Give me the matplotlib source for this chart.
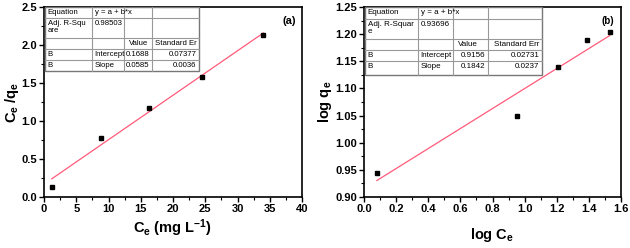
import numpy as np
import matplotlib.pyplot as plt
from matplotlib.ticker import MultipleLocator

plt.rcParams['font.family'] = ['Liberation Sans', 'DejaVu Sans']
plt.rcParams['mathtext.fontset'] = 'custom'
plt.rcParams['mathtext.rm'] = 'Liberation Sans:bold'
plt.rcParams['mathtext.it'] = 'Liberation Sans:bold'
plt.rcParams['mathtext.bf'] = 'Liberation Sans:bold'

# Langmuir data (a)
ce_a = [1.2, 8.8, 16.3, 24.5, 34.0]
ceqe_a = [0.13, 0.78, 1.17, 1.58, 2.13]
int_a, slope_a = 0.1688, 0.0585

# Freundlich data (b)
logce_b = [0.08, 0.95, 1.21, 1.39, 1.53]
logqe_b = [0.944, 1.049, 1.139, 1.190, 1.204]
int_b, slope_b = 0.9156, 0.1842

table_a = [["Equation", "y = a + b*x", "", ""],
           ["Adj. R-Squ\nare", "0.98503", "", ""],
           ["", "", "Value", "Standard Er"],
           ["B", "Intercept", "0.1688", "0.07377"],
           ["B", "Slope", "0.0585", "0.0036"]]
table_b = [["Equation", "y = a + b*x", "", ""],
           ["Adj. R-Squar\ne", "0.93696", "", ""],
           ["", "", "Value", "Standard Err"],
           ["B", "Intercept", "0.9156", "0.02731"],
           ["B", "Slope", "0.1842", "0.0237"]]


def draw_table(ax, data, x0, y0, colw, rowh, fs):
    # draws a bordered table in axes fraction coords, top-left at (x0, y0)
    xs = [x0]
    for w in colw:
        xs.append(xs[-1] + w)
    ys = [y0]
    for h in rowh:
        ys.append(ys[-1] - h)
    kw = dict(transform=ax.transAxes, color='#999999', lw=0.8, zorder=5)
    ax.add_patch(plt.Rectangle((xs[0], ys[-1]), xs[-1] - xs[0], ys[0] - ys[-1],
                               transform=ax.transAxes, facecolor='white',
                               edgecolor='#777777', lw=1.0, zorder=4))
    for y in ys[1:-1]:
        ax.plot([xs[0], xs[-1]], [y, y], **kw)
    for x in xs[1:-1]:
        ax.plot([x, x], [ys[0], ys[-1]], **kw)
    for i, row in enumerate(data):
        for j, txt in enumerate(row):
            if not txt:
                continue
            right = (j >= 2 and i >= 3) or (j == 3)
            ha = 'right' if right else 'left'
            xx = xs[j + 1] - 0.01 if right else xs[j] + 0.01
            if i == 2 and j == 2:
                ha, xx = 'left', xs[j] + 0.02
            ax.text(xx, ys[i] - 0.012, txt, ha=ha, va='top', fontsize=fs,
                    transform=ax.transAxes, zorder=6, linespacing=0.9)


fig = plt.figure(figsize=(6.3, 2.48), dpi=100)
W, H = 630, 248
ax1 = fig.add_axes([44 / W, 1 - 197 / H, (302 - 44) / W, (197 - 7) / H])
ax2 = fig.add_axes([364 / W, 1 - 197 / H, (621 - 364) / W, (197 - 7) / H])

# panel (a)
ax1.plot(ce_a, ceqe_a, 's', color='black', ms=3.5, zorder=3)
xf = np.array([ce_a[0], ce_a[-1]])
ax1.plot(xf, int_a + slope_a * xf, color='#ff5a7a', lw=0.9, zorder=2)
ax1.set_xlim(0, 40)
ax1.set_ylim(0, 2.5)
ax1.xaxis.set_major_locator(MultipleLocator(5))
ax1.xaxis.set_minor_locator(MultipleLocator(2.5))
ax1.yaxis.set_major_locator(MultipleLocator(0.5))
ax1.yaxis.set_minor_locator(MultipleLocator(0.25))
ax1.set_xlabel(r'C$_\mathregular{e}$ (mg L$^\mathregular{-1}$)', fontsize=10.5,
               fontweight='bold', va='center')
ax1.xaxis.set_label_coords(0.5, -0.165)
ax1.set_ylabel(r'C$_\mathregular{e}$ /q$_\mathregular{e}$', fontsize=10.5,
               fontweight='bold', va='center')
ax1.yaxis.set_label_coords(-0.125, 0.5)
ax1.text(0.975, 0.955, '(a)', transform=ax1.transAxes, ha='right', va='top',
         fontsize=8, fontweight='bold')
draw_table(ax1, table_a, 0.004, 1.0,
           [47 / 258, 32 / 258, 28 / 258, 47 / 258],
           [11 / 190, 20 / 190, 11 / 190, 11 / 190, 11 / 190], 5.6)

# panel (b)
ax2.plot(logce_b, logqe_b, 's', color='black', ms=3.5, zorder=3)
xf = np.array([logce_b[0], logce_b[-1]])
ax2.plot(xf, int_b + slope_b * xf, color='#ff5a7a', lw=0.9, zorder=2)
ax2.set_xlim(0, 1.6)
ax2.set_ylim(0.90, 1.25)
ax2.xaxis.set_major_locator(MultipleLocator(0.2))
ax2.xaxis.set_minor_locator(MultipleLocator(0.1))
ax2.yaxis.set_major_locator(MultipleLocator(0.05))
ax2.yaxis.set_minor_locator(MultipleLocator(0.025))
ax2.set_xlabel(r'log C$_\mathregular{e}$', fontsize=10.5, fontweight='bold',
               va='center')
ax2.xaxis.set_label_coords(0.5, -0.2)
ax2.set_ylabel(r'log q$_\mathregular{e}$', fontsize=10.5, fontweight='bold',
               va='center')
ax2.yaxis.set_label_coords(-0.15, 0.5)
ax2.text(0.975, 0.955, '(b)', transform=ax2.transAxes, ha='right', va='top',
         fontsize=7, fontweight='bold')
draw_table(ax2, table_b, 0.004, 1.0,
           [53 / 257, 35 / 257, 35 / 257, 54 / 257],
           [12 / 190, 20 / 190, 11 / 190, 11 / 190, 14 / 190], 5.8)

for ax in (ax1, ax2):
    ax.tick_params(which='major', direction='out', length=3.5, width=1,
                   labelsize=8, pad=1.5)
    ax.tick_params(which='minor', direction='out', length=2, width=0.8)
    for lab in ax.get_xticklabels() + ax.get_yticklabels():
        lab.set_fontweight('bold')
    for s in ax.spines.values():
        s.set_linewidth(1.2)

fig.savefig('out.png', dpi=100)
